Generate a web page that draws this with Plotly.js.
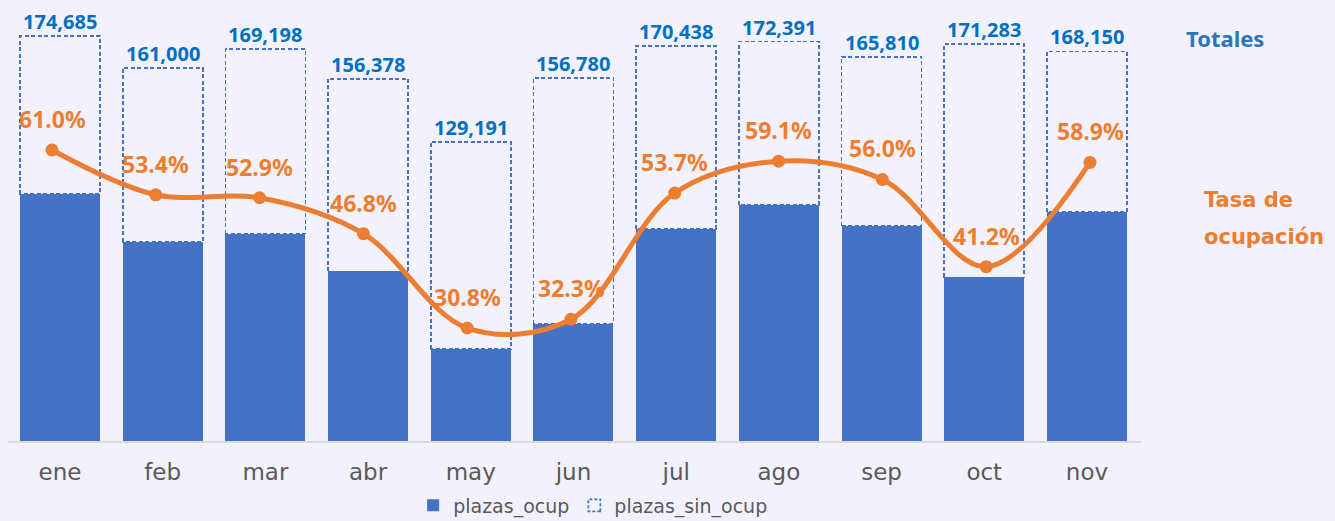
<!DOCTYPE html>
<html>
<head>
<meta charset="utf-8">
<script src="https://cdn.plot.ly/plotly-3.0.1.min.js"></script>
<style>
  html, body { margin: 0; padding: 0; background: #F3F2FC; }
  #chart { width: 1335px; height: 521px; }
</style>
</head>
<body>
<div id="chart"></div>
<script>
// ---- data ----
const months = ['ene','feb','mar','abr','may','jun','jul','ago','sep','oct','nov'];
const totals = [174685,161000,169198,156378,129191,156780,170438,172391,165810,171283,168150];
const plazasOcup = [106558,85974,89506,73185,39791,50640,91525,101883,92854,70569,99040];
const plazasSinOcup = [68127,75026,79692,83193,89400,106140,78913,70508,72956,100714,69110];
const tasaOcupacion = [61.0,53.4,52.9,46.8,30.8,32.3,53.7,59.1,56.0,41.2,58.9];

// ---- styles ----
const BG = '#F3F2FC';
const BLUE = '#4472C4';
const LABEL_BLUE = '#0070C0';
const ORANGE = '#ED7D31';

const traces = [
  {
    type: 'bar', name: 'plazas_ocup', x: months, y: plazasOcup,
    marker: { color: BLUE, line: { width: 0 } },
    hoverinfo: 'skip'
  },
  {
    type: 'bar', name: 'plazas_sin_ocup', x: months, y: plazasSinOcup,
    marker: { color: 'rgba(0,0,0,0)', line: { color: BLUE, width: 1.7 } },
    hoverinfo: 'skip'
  },
  {
    type: 'scatter', mode: 'lines+markers', name: 'Tasa de ocupación',
    x: months, y: tasaOcupacion, xaxis: 'x2', yaxis: 'y2',
    line: { color: ORANGE, width: 5, shape: 'spline', smoothing: 1 },
    marker: { color: ORANGE, size: 13 },
    showlegend: false, hoverinfo: 'skip'
  }
];

const annotations = [];
months.forEach((m, i) => {
  annotations.push({
    xref: 'x', yref: 'y', x: m, y: totals[i],
    text: totals[i].toLocaleString('en-US'),
    showarrow: false, yanchor: 'bottom', yshift: -1,
    font: { family: 'Noto Sans', size: 20, color: LABEL_BLUE, weight: 'bold' }
  });
  annotations.push({
    xref: 'x2', yref: 'y2', x: m, y: tasaOcupacion[i],
    text: tasaOcupacion[i].toFixed(1) + '%',
    showarrow: false, yanchor: 'middle', yshift: 31,
    font: { family: 'Noto Sans', size: 23, color: ORANGE, weight: 'bold' }
  });
});
annotations.push({
  xref: 'paper', yref: 'paper', x: 1.037, y: 0.957, xanchor: 'left', yanchor: 'middle',
  text: 'Totales', showarrow: false,
  font: { family: 'Noto Sans', size: 22, color: '#2E75B6', weight: 'bold' }
});
annotations.push({
  xref: 'paper', yref: 'paper', x: 1.053, y: 0.5724, xanchor: 'left', yanchor: 'middle',
  text: 'Tasa de', showarrow: false,
  font: { family: 'DejaVu Sans', size: 21, color: ORANGE, weight: 'bold' }
});
annotations.push({
  xref: 'paper', yref: 'paper', x: 1.053, y: 0.4846, xanchor: 'left', yanchor: 'middle',
  text: 'ocupación', showarrow: false,
  font: { family: 'DejaVu Sans', size: 21, color: ORANGE, weight: 'bold' }
});

const layout = {
  width: 1335, height: 521,
  paper_bgcolor: BG, plot_bgcolor: BG,
  margin: { l: 8, r: 193, t: 20, b: 80, autoexpand: false },
  barmode: 'stack', bargap: 0.221,
  showlegend: true,
  legend: {
    orientation: 'h', x: 0.516, xanchor: 'center', y: -0.108, yanchor: 'top',
    font: { family: 'DejaVu Sans', size: 19, color: '#595959' },
    bgcolor: 'rgba(0,0,0,0)', traceorder: 'normal'
  },
  xaxis: {
    type: 'category', range: [-0.5063, 10.536],
    showgrid: false, zeroline: false,
    showline: true, linecolor: '#D9D9D9', linewidth: 1.5,
    ticks: '', ticklabelstandoff: 10,
    tickfont: { family: 'DejaVu Sans', size: 23, color: '#595959' },
    fixedrange: true
  },
  yaxis: {
    range: [0, 181700], showgrid: false, zeroline: false,
    showticklabels: false, showline: false, fixedrange: true
  },
  xaxis2: {
    type: 'category', overlaying: 'x', range: [-0.4239, 10.501],
    visible: false, fixedrange: true
  },
  yaxis2: {
    overlaying: 'y', range: [11.63, 83.06], visible: false, fixedrange: true
  },
  annotations: annotations
};

Plotly.newPlot('chart', traces, layout, { staticPlot: true, displayModeBar: false }).then(gd => {
  const barTraces = gd.querySelectorAll('.barlayer .trace');
  if (barTraces[1]) {
    barTraces[1].querySelectorAll('path').forEach(p => {
      p.style.strokeDasharray = '4,2.5';
    });
  }
  const legTraces = gd.querySelectorAll('.legend .traces');
  if (legTraces[1]) {
    legTraces[1].querySelectorAll('.legendpoints path').forEach(p => {
      p.style.strokeDasharray = '3,2';
    });
  }
});
</script>
</body>
</html>
